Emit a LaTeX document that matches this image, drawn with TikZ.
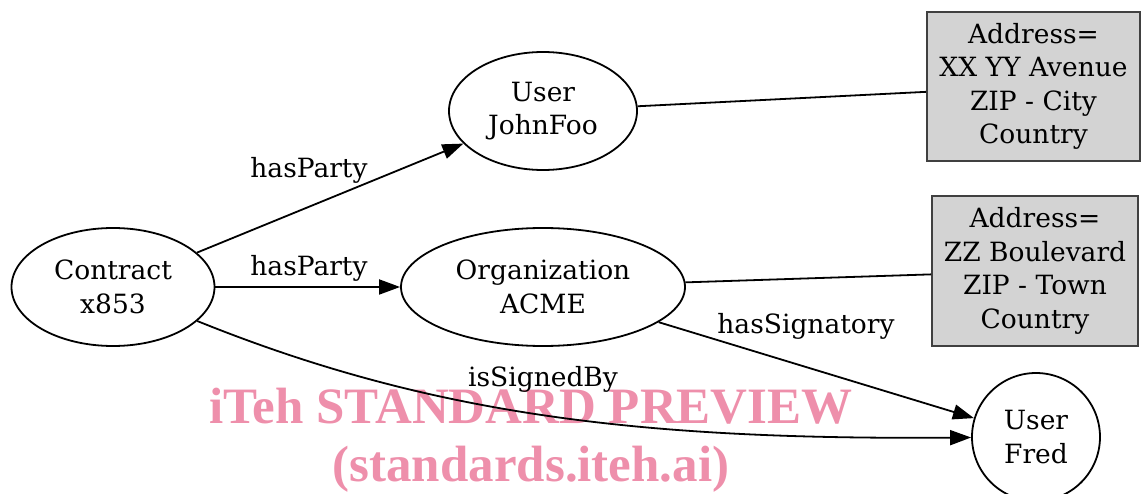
\documentclass[tikz,border=0pt]{standalone}
\usepackage{fontspec}
\setmainfont{DejaVu Serif}
\newfontfamily\wmfont{Liberation Serif}
\usetikzlibrary{shapes.geometric,arrows.meta}
\definecolor{wmpink}{RGB}{238,143,171}
\definecolor{boxgray}{RGB}{211,211,211}
\begin{document}
\begin{tikzpicture}[x=1pt,y=-1pt,
  every node/.style={font=\fontsize{26.5}{33.5}\selectfont},
  ell/.style={draw, ellipse, line width=1.8pt, inner sep=0pt, align=center},
  addr/.style={draw=black!75, fill=boxgray, line width=1.8pt, inner sep=0pt, align=center},
  edgeline/.style={line width=1.8pt},
  arr/.style={edgeline, -{Triangle[length=21pt,width=15pt]}},
  lbl/.style={anchor=base, inner sep=0pt},
  wm/.style={anchor=base, inner sep=0pt, text=wmpink, font=\wmfont\bfseries\fontsize{51}{60}\selectfont}]
\useasboundingbox (0,0) rectangle (1141,494);
% watermark (background)
\node[wm] (wm1) at (531,423) {iTeh STANDARD PREVIEW};
\node[wm] (wm2) at (531,481) {(standards.iteh.ai)};
% nodes
\node[ell, minimum width=203pt, minimum height=118pt] (contract) at (113,287) {Contract\\x853};
\node[ell, minimum width=188pt, minimum height=118pt] (john) at (543,111) {User\\JohnFoo};
\node[ell, minimum width=284pt, minimum height=118pt] (acme) at (543,287) {Organization\\ACME};
\node[draw, circle, line width=1.8pt, inner sep=0pt, align=center, minimum size=128pt] (fred) at (1036,437) {User\\Fred};
\node[addr, minimum width=213pt, minimum height=149pt] (box1) at (1033.5,86.5) {Address=\\XX YY Avenue\\ZIP - City\\Country};
\node[addr, minimum width=206pt, minimum height=150pt] (box2) at (1035,271) {Address=\\ZZ Boulevard\\ZIP - Town\\Country};
% connectors
\draw[arr] (contract) -- (john);
\draw[arr] (contract) -- (acme);
\draw[arr] (contract) .. controls (430,415) and (640,440) .. (fred);
\draw[arr] (acme) -- (fred);
\draw[edgeline] (john) -- (box1);
\draw[edgeline] (acme) -- (box2);
% labels
\node[lbl] (l1) at (309,178) {hasParty};
\node[lbl] (l2) at (309,276) {hasParty};
\node[lbl] (l3) at (543,386) {isSignedBy};
\node[lbl] (l4) at (806,334) {hasSignatory};
\end{tikzpicture}
\end{document}
